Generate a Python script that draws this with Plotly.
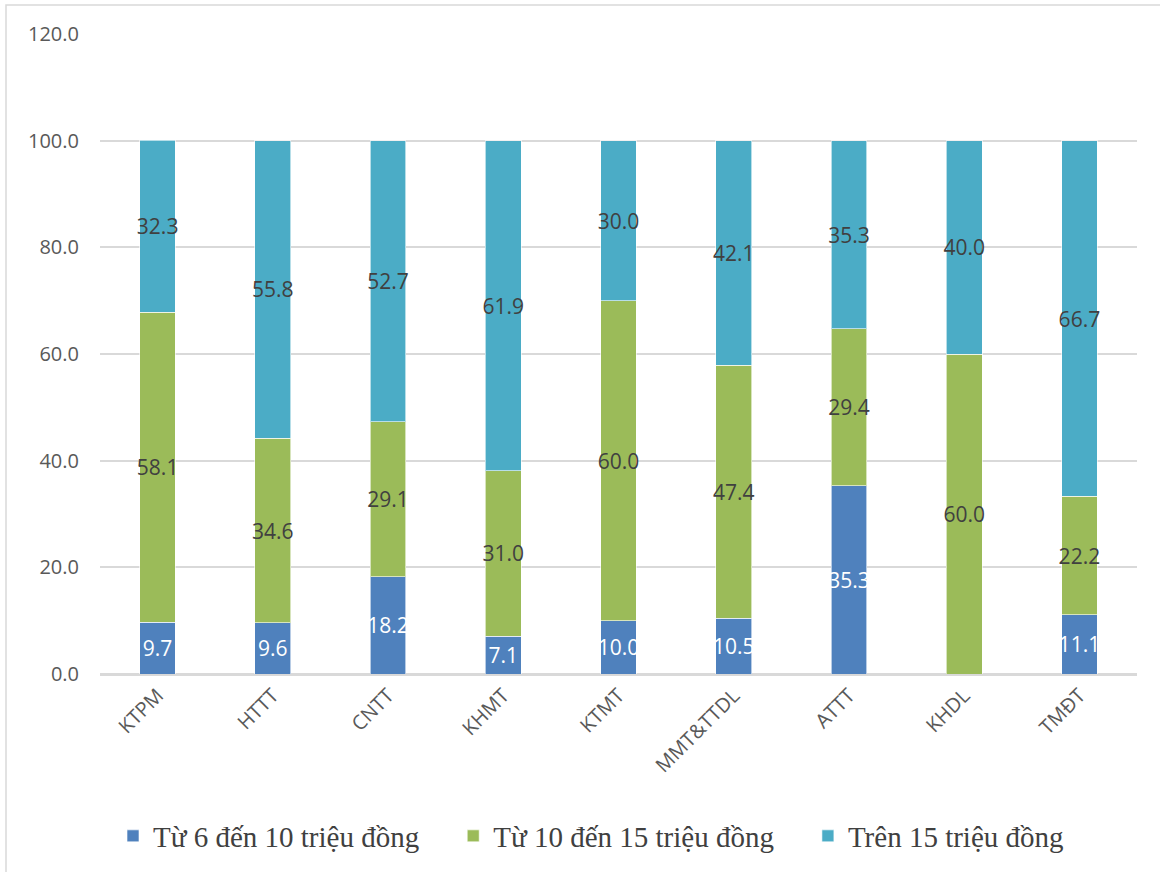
import plotly.graph_objects as go

# Majors and salary-band shares (%)
majors = ["KTPM", "HTTT", "CNTT", "KHMT", "KTMT", "MMT&TTDL", "ATTT", "KHDL", "TMĐT"]
band_6_10 = [9.7, 9.6, 18.2, 7.1, 10.0, 10.5, 35.3, 0.0, 11.1]
band_10_15 = [58.1, 34.6, 29.1, 31.0, 60.0, 47.4, 29.4, 60.0, 22.2]
band_over_15 = [32.3, 55.8, 52.7, 61.9, 30.0, 42.1, 35.3, 40.0, 66.7]

series_names = ["Từ 6 đến 10 triệu đồng", "Từ 10 đến 15 triệu đồng", "Trên 15 triệu đồng"]
series_values = [band_6_10, band_10_15, band_over_15]
series_colors = ["#4F81BD", "#9BBB59", "#4BACC6"]
label_colors = ["#FFFFFF", "#404040", "#404040"]

# non-breaking padding widens the gap between legend entries
pad = "\u00a0" * 4

fig = go.Figure()
for i, (name, vals, col, lcol) in enumerate(zip(series_names, series_values, series_colors, label_colors)):
    fig.add_trace(go.Bar(
        x=majors,
        y=vals,
        name=name + (pad if i < len(series_names) - 1 else ""),
        marker=dict(color=col, line=dict(color="rgba(255,255,255,0.6)", width=1)),
        text=[f"{v:.1f}" if v > 0 else "" for v in vals],
        textposition="inside",
        insidetextanchor="middle",
        textangle=0,
        constraintext="none",
        textfont=dict(family="Open Sans", size=21, color=lcol),
        width=0.31,
    ))

L, R, T, B = 100, 23, 34, 197
W, H = 1160, 872
pw, ph = W - L - R, H - T - B

fig.update_layout(
    barmode="stack",
    width=W,
    height=H,
    margin=dict(l=L, r=R, t=T, b=B),
    paper_bgcolor="white",
    plot_bgcolor="white",
    showlegend=True,
    legend=dict(
        orientation="h",
        x=(591 - L) / pw,
        xanchor="center",
        y=(T + ph - 836) / ph,
        yanchor="middle",
        font=dict(family="Liberation Serif", size=29, color="#404040"),
        itemwidth=30,
        traceorder="normal",
    ),
    xaxis=dict(
        tickangle=-45,
        tickfont=dict(family="Open Sans", size=20, color="#595959"),
        showline=True,
        linecolor="#D9D9D9",
        linewidth=2,
        showgrid=False,
        ticks="",
    ),
    yaxis=dict(
        range=[0, 120],
        dtick=20,
        tickformat=".1f",
        tickfont=dict(family="Open Sans", size=20, color="#595959"),
        showgrid=True,
        gridcolor="#D9D9D9",
        gridwidth=1.5,
        zeroline=True,
        zerolinecolor="#D9D9D9",
        zerolinewidth=2,
        ticks="",
        ticklabelstandoff=20,
    ),
    shapes=[dict(
        type="rect",
        xref="paper",
        yref="paper",
        x0=(6 - L) / pw,
        x1=(W + 20 - L) / pw,
        y0=-(H + 20 - T - ph) / ph,
        y1=1 + (T - 5) / ph,
        line=dict(color="#D9D9D9", width=1.5),
        layer="below",
    )],
)

fig.write_html("out.html")
